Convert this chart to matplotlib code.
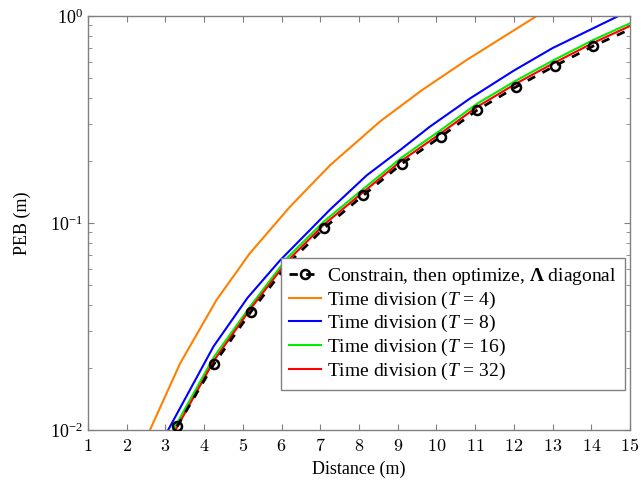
import matplotlib
matplotlib.use("Agg")
import matplotlib.pyplot as plt
from matplotlib.ticker import FixedLocator, LogLocator, NullFormatter

# Data (distance in m, PEB in m)
x_orange = [2.6, 3.38, 4.32, 5.18, 6.22, 7.25, 8.54, 9.6, 10.78, 12.59]
y_orange = [0.01, 0.021, 0.0425, 0.0714, 0.12, 0.19, 0.309, 0.435, 0.613, 1.0]

x_blue = [3.07, 4.24, 5.12, 5.96, 7.25, 8.2, 9.06, 9.83, 10.87, 12.0, 13.0, 14.7]
y_blue = [0.01, 0.0253, 0.0435, 0.066, 0.116, 0.17, 0.225, 0.292, 0.40, 0.545, 0.70, 1.0]

x_green = [3.2, 4.25, 5.21, 6.15, 7.1, 8.11, 9.1, 10.11, 11.05, 12.05, 13.05, 14.05, 15]
y_green = [0.01, 0.0225, 0.040, 0.068, 0.102, 0.146, 0.207, 0.281, 0.377, 0.487, 0.615, 0.766, 0.922]

x_red = [3.26, 4.25, 5.21, 6.15, 7.1, 8.11, 9.1, 10.11, 11.05, 12.05, 13.05, 14.05, 15]
y_red = [0.01, 0.0216, 0.0388, 0.0655, 0.0985, 0.141, 0.200, 0.271, 0.364, 0.471, 0.595, 0.742, 0.895]

x_black = [3.3, 4.25, 5.21, 6.15, 7.1, 8.11, 9.1, 10.11, 11.05, 12.05, 13.05, 14.05, 15]
y_black = [0.0104, 0.0208, 0.0373, 0.063, 0.0946, 0.136, 0.193, 0.261, 0.351, 0.454, 0.573, 0.716, 0.862]

x_ticks = list(range(1, 16))

plt.rcParams['font.family'] = ['Liberation Serif', 'DejaVu Serif']
plt.rcParams['mathtext.fontset'] = 'custom'
plt.rcParams['mathtext.rm'] = 'cmr10'
plt.rcParams['mathtext.it'] = 'Liberation Serif:italic'
plt.rcParams['mathtext.bf'] = 'Liberation Serif:bold'
plt.rcParams['axes.formatter.use_mathtext'] = True

fig = plt.figure(figsize=(6.41, 4.82), dpi=100)
ax = fig.add_axes([0.1373, 0.1079, 0.8456, 0.8589])

lw = 1.5
ax.plot(x_black, y_black, color='black', linestyle=(0, (3, 3)), lw=2.0,
        marker='o', markersize=6.5, markerfacecolor='none', markeredgewidth=1.8,
        markevery=slice(0, -1), zorder=5,
        label=r'Constrain, then optimize, $\mathbf{\Lambda}$ diagonal')
ax.plot(x_orange, y_orange, color='#ff8000', lw=lw, label=r'Time division ($T$ = 4)')
ax.plot(x_blue, y_blue, color='#0000ff', lw=lw, label=r'Time division ($T$ = 8)')
ax.plot(x_green, y_green, color='#00ee00', lw=lw, label=r'Time division ($T$ = 16)')
ax.plot(x_red, y_red, color='#ff0000', lw=lw, label=r'Time division ($T$ = 32)')

ax.set_yscale('log')
ax.set_xlim(1, 15)
ax.set_ylim(0.01, 1)
ax.xaxis.set_major_locator(FixedLocator(x_ticks))
ax.set_xticklabels([r'$%d$' % t for t in x_ticks])
ax.yaxis.set_major_locator(LogLocator(base=10))
ax.yaxis.set_minor_locator(LogLocator(base=10, subs=range(2, 10)))
ax.yaxis.set_minor_formatter(NullFormatter())

gray = '#808080'
for s in ax.spines.values():
    s.set_color(gray)
    s.set_linewidth(1.0)
ax.tick_params(which='both', direction='in', top=True, right=True, color=gray,
               labelsize=13)
ax.tick_params(which='major', length=4.5)
ax.tick_params(which='minor', length=3)
ax.tick_params(axis='x', pad=6)

ax.set_xlabel('Distance (m)', fontsize=13, labelpad=4)
ax.set_ylabel('PEB (m)', fontsize=13, labelpad=14)

leg = ax.legend(loc='lower right', bbox_to_anchor=(0.991, 0.097), fontsize=14,
                frameon=True, fancybox=False, edgecolor=gray, framealpha=1,
                handlelength=1.6, handletextpad=0.35, labelspacing=0.13,
                borderpad=0.42, borderaxespad=0)
leg.get_frame().set_linewidth(1.0)

fig.savefig('out.png', dpi=100)
